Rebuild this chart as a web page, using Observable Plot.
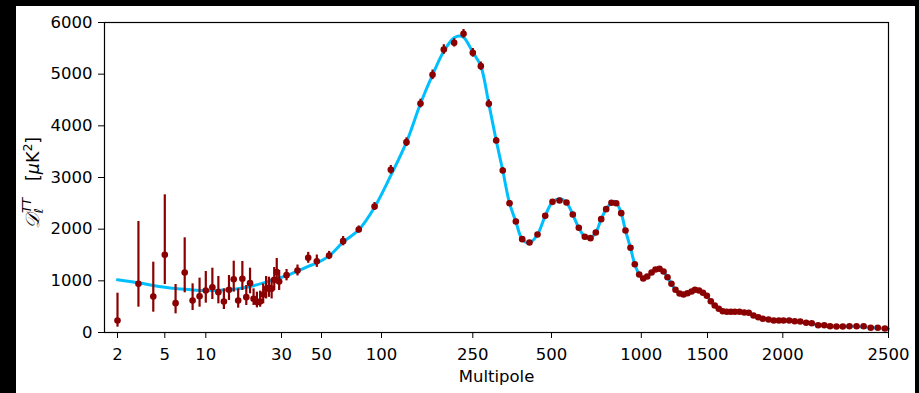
<!DOCTYPE html>
<html><head><meta charset="utf-8">
<script src="https://cdn.jsdelivr.net/npm/d3@7"></script>
<script src="https://cdn.jsdelivr.net/npm/@observablehq/plot@0.6"></script>
<style>
html,body{margin:0;padding:0;background:#000;width:919px;height:393px;overflow:hidden;}
#wrap{position:absolute;left:16px;top:6px;width:899px;height:387px;background:#fff;}
</style></head><body><div id="wrap"></div>
<script>
// ---- data ----
const lowL  = [2,3,4,5,6,7,8,9,10,11,12,13,14,15,16,17,18,19,20,21,22,23,24,25,26,27,28,29];
const lowD  = [232,942,697,1503,568,1161,619,703,813,877,781,600,826,1032,619,1039,684,955,652,587,600,735,845,865,845,1019,1168,987];
const lowLo = [103,490,393,929,361,768,426,490,568,639,555,445,619,781,471,813,523,748,523,477,490,555,650,680,650,813,942,813];
const lowHi = [761,2148,1361,2665,929,1833,942,1052,1181,1245,1084,845,1103,1380,845,1374,910,1245,845,781,800,940,1084,1070,1040,1258,1432,1200];

const binL = [32,36.8,42.2,47.1,54.6,64.2,76.9,92.3,109.8,128.5,147.9,166.9,186.9,207.4,227.8,250,
  268.3,287.9,307.2,325.5,345.5,365.2,386.3,411.9,442,473.1,503.9,531.9,561.3,589.3,617.3,646.5,675.5,703.8,
  733.8,762.6,794.4,823.9,856.4,885.1,919.9,951,983.9,
  1012,1037,1065,1091,1118,1146,1174,1203,1233,1264,1295,1327,1361,1389,1424,1459,1494,
  1519,1542,1566,1590,1615,1640,1665,1695,1726,1756,1788,1821,1853,1894,1932,1970,
  2003,2027,2051,2075,2101,2126,2155,2183,2210,2240,2270,2302,2337,2372,2408,2444,2481];
const binD = [1110,1200,1445,1380,1490,1768,1994,2439,3149,3684,4432,4987,5477,5606,5781,5413,
  5155,4426,3716,3135,2503,2148,1807,1742,1897,2258,2529,2555,2516,2284,2026,1852,1826,1936,
  2194,2387,2510,2503,2310,1974,1639,1322,1123,
  1045,1084,1161,1219,1233,1181,1070,943,826,755,735,761,794,826,813,768,710,
  606,523,459,412,401,401,401,401,387,381,329,296,265,252,232,232,
  232,232,219,213,188,180,141,141,122,116,116,122,122,122,91,91,77];
const binErr = [110,106,106,120,80,90,68,77,84,84,84,93,93,80,84,84,
  80,77,60,55,50,45,40,40,40,40,40,40,40,35,35,30,30,30,
  30,30,30,30,30,25,25,25,25,
  20,20,20,20,20,20,20,20,20,20,20,20,20,20,20,20,20,
  20,20,20,20,20,20,20,20,20,20,20,20,20,20,20,20,
  20,20,20,20,20,20,20,20,20,20,20,20,20,20,20,20,20];

const curveL = [2,3,4,5,6,7,8,10,12,14,17,20,24,28,32,36.8,42.2,47.1,54.6,64.2,76.9,92.3,109.8,128.5,147.9,166.9,186.9,207.4,217,227.8,250,
  268.3,287.9,307.2,325.5,345.5,365.2,386.3,411.9,442,473.1,503.9,535,561.3,589.3,617.3,646.5,670,703.8,733.8,762.6,794.4,812,823.9,856.4,885.1,919.9,951,983.9,
  1012,1037,1065,1091,1118,1146,1174,1203,1233,1264,1295,1327,1361,1389,1424,1459,1494,1519,1542,1566,1590,1615,1665,1695,1726,1756,1788,1821,1853,1894,1932,1970,
  2003,2051,2101,2155,2210,2270,2337,2408,2481,2500];
const curveD = [1019,961,910,877,852,835,824,813,816,828,860,905,975,1040,1100,1187,1280,1345,1484,1748,1988,2426,3040,3684,4432,4987,5445,5704,5740,5716,5425,
  5155,4426,3716,3135,2503,2148,1807,1735,1897,2258,2529,2590,2516,2284,2026,1852,1815,1936,2194,2387,2510,2540,2520,2310,1974,1639,1322,1123,
  1045,1084,1161,1219,1235,1181,1070,943,826,755,735,761,794,820,813,768,710,606,523,459,412,401,400,398,387,378,329,296,265,250,235,230,
  228,219,190,150,125,118,118,95,78,75];

const xTicks = [2,5,10,30,50,100,250,500,1000,1500,2000,2500];
const yTicks = [0,1000,2000,3000,4000,5000,6000];
const xLabel = "Multipole";

// ---- x scale definition: fraction of axis width at each labelled multipole ----
const xWarp = [0.016582,0.076913,0.129209,0.225765,0.276786,0.353316,0.469770,0.570153,0.684694,0.769133,0.865179,1];
function warp(l) {
  let i = 0;
  while (i < xTicks.length - 2 && l > xTicks[i + 1]) i++;
  const a = Math.log(xTicks[i]), b = Math.log(xTicks[i + 1]);
  return xWarp[i] + (Math.log(l) - a) / (b - a) * (xWarp[i + 1] - xWarp[i]);
}
const xTickU = xTicks.map(warp);
const fmtX = u => { const i = xTickU.findIndex(v => Math.abs(v - u) < 1e-6); return i >= 0 ? String(xTicks[i]) : ""; };

const pts = [
  ...lowL.map((l, i) => ({u: warp(l), D: lowD[i], lo: lowLo[i], hi: lowHi[i]})),
  ...binL.map((l, i) => ({u: warp(l), D: binD[i], lo: binD[i] - binErr[i], hi: binD[i] + binErr[i]}))
];
const curve = curveL.map((l, i) => ({u: warp(l), D: curveD[i]}));

const red = "#8b0000", blue = "#00bfff";
const chart = Plot.plot({
  width: 899, height: 387,
  marginLeft: 88, marginRight: 27, marginTop: 16, marginBottom: 61,
  style: {fontFamily: "DejaVu Sans", fontSize: "16.5px", background: "white", color: "black", overflow: "visible"},
  x: {type: "linear", domain: [0, 1]},
  y: {domain: [0, 6000]},
  marks: [
    Plot.line(curve, {x: "u", y: "D", stroke: blue, strokeWidth: 3, curve: "catmull-rom"}),
    Plot.ruleX(pts, {x: "u", y1: "lo", y2: "hi", stroke: red, strokeWidth: 2.2}),
    Plot.dot(pts, {x: "u", y: "D", r: 3.3, fill: red, stroke: "none"}),
    Plot.frame({stroke: "black", strokeWidth: 1.2}),
    Plot.axisX({ticks: xTickU, tickFormat: fmtX, tickSize: 6, tickPadding: 10, label: null}),
    Plot.axisY({ticks: yTicks, tickFormat: d => String(d), tickSize: 6, tickPadding: 6, label: null}),
    Plot.text([xLabel], {frameAnchor: "bottom", dy: 49, text: d => d, fontSize: 16.5})
  ]
});
document.getElementById("wrap").appendChild(chart);

// y-axis label with math-style formatting
const svg = d3.select(chart);
const t = svg.append("text")
  .attr("transform", "translate(23,177) rotate(-90)")
  .attr("text-anchor", "middle")
  .attr("font-family", "DejaVu Sans")
  .attr("font-size", 17.5)
  .attr("fill", "black");
t.append("tspan").attr("font-family", "DejaVu Serif").attr("font-style", "italic").attr("font-size", 19).text("\u{1D49F}");
t.append("tspan").attr("font-size", 12.5).attr("font-style", "italic").attr("dx", 1).attr("dy", 4).text("\u2113");
t.append("tspan").attr("font-size", 12.5).attr("font-style", "italic").attr("dx", -5).attr("dy", -12).text("TT");
t.append("tspan").attr("dy", 8).text("\u00a0\u00a0\u00a0[");
t.append("tspan").attr("font-style", "italic").text("\u03bc");
t.append("tspan").text("K");
t.append("tspan").attr("font-size", 12.5).attr("dy", -7).text("2");
t.append("tspan").attr("dy", 7).text("]");
</script>
</body></html>
